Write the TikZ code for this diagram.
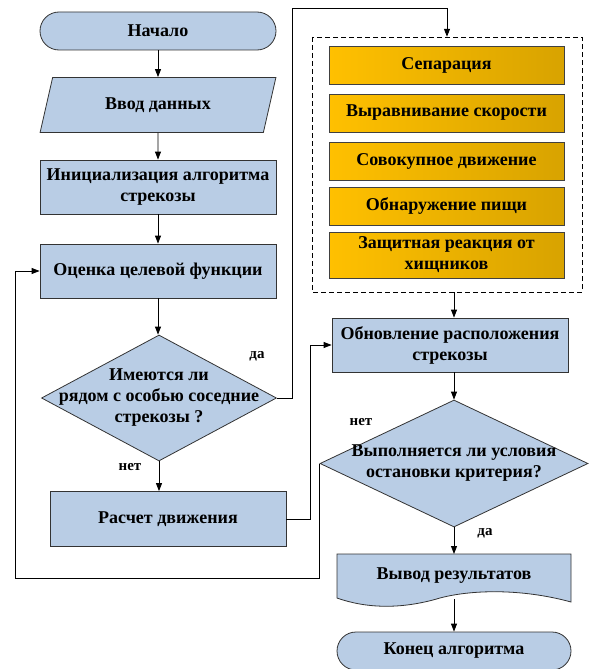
\documentclass[tikz,border=0pt]{standalone}
\usepackage{fontspec}
\setmainfont{Liberation Serif}
\usetikzlibrary{arrows.meta,positioning,shapes.geometric}

\definecolor{boxblue}{HTML}{B9CDE5}
\definecolor{goldA}{HTML}{FFC000}
\definecolor{goldB}{HTML}{D8A300}

\tikzset{
  box/.style={draw=black!80,line width=.8pt,fill=boxblue,minimum width=236pt,minimum height=54pt,align=center,inner sep=2pt},
  term/.style={box,minimum height=38pt,rounded corners=19pt},
  io/.style={box,trapezium,trapezium left angle=71,trapezium right angle=109,trapezium stretches=true,minimum height=55pt},
  decide/.style={draw=black!80,line width=.8pt,fill=boxblue,diamond,inner sep=0pt},
  rule/.style={draw=black!75,line width=.8pt,left color=goldA,right color=goldB,minimum width=235pt,minimum height=38pt,align=center,inner sep=1pt},
  link/.style={line width=.9pt,-{Triangle[length=8pt,width=6pt]}},
  lbl/.style={font=\fontsize{15}{17}\selectfont\bfseries}
}

\begin{document}
\begin{tikzpicture}[x=1pt,y=-1pt,every node/.style={font=\fontsize{18}{21}\selectfont\bfseries}]
\useasboundingbox (0,0) rectangle (590,669);

% left column
\node[term] (start) at (158,31) {Начало};
\node[io] (input) at (158,105) {Ввод данных};
\node[box] (init) at (158,187) {Инициализация алгоритма\\стрекозы};
\node[box] (eval) at (158,271) {Оценка целевой функции};
\node[decide,minimum width=235pt,minimum height=126pt] (near) at (159,398) {};
\node[align=center] at (near) {Имеются ли\\рядом с особью соседние\\стрекозы ?};
\node[box,minimum height=55pt] (move) at (168,519) {Расчет движения};

% behaviour group
\draw[line width=.8pt,dash pattern=on 5pt off 3pt] (312,37) rectangle (582,292);
\node[inner sep=0pt,minimum width=270pt,minimum height=255pt] (grp) at (447,164.5) {};
\node[rule] (sep) at (446.5,65.5) {Сепарация};
\node[rule] (ali) at (446.5,113) {Выравнивание скорости};
\node[rule] (coh) at (446.5,161) {Совокупное движение};
\node[rule] (food) at (446.5,206) {Обнаружение пищи};
\node[rule,minimum height=46pt] (enemy) at (446.5,255) {Защитная реакция от\\хищников};

% right column
\node[box] (upd) at (450,345) {Обновление расположения\\стрекозы};
\node[decide,minimum width=268pt,minimum height=127pt] (stop) at (454,463.5) {};
\node[align=center] at (stop) {Выполняется ли условия\\остановки критерия?};
\coordinate (outtl) at (337,554);
\coordinate (outbr) at (571,602);
\coordinate (outbot) at (454,599);
\draw[line width=.8pt,draw=black!80,fill=boxblue] (outtl) -- (571,554) -- (outbr)
  .. controls (520,588) and (470,590) .. (440,598)
  .. controls (400,610) and (365,608) .. (337,598) -- cycle;
\node[minimum width=234pt,minimum height=44pt] (out) at (454,576) {Вывод результатов};
\node[term,minimum width=234pt] (end) at (454,651) {Конец алгоритма};

% flow
\draw[link] (start) -- (input);
\draw[link] (input) -- (init);
\draw[link] (init) -- (eval);
\draw[link] (eval) -- (eval |- near.north);
\draw[link] (near.south) -- (near.south |- move.north);
\coordinate (yesup) at (292,8);
\draw[link] (near.east) -| (yesup) -| (grp.north);
\draw[link] (move.east) -- ++(24,0) |- (upd.west);
\draw[link] (stop.north |- grp.south) -- (stop.north |- upd.north);
\draw[link] (stop.north |- upd.south) -- (stop.north);
\coordinate (back) at (15,578);
\draw[link] (stop.west) |- (back) |- (eval.west);
\draw[link] (stop.south) -- (out.north |- outtl);
\draw[link] (outbot) -- (end);

\node[lbl] at (257,356) {да};
\node[lbl] at (130,467) {нет};
\node[lbl] at (361,422) {нет};
\node[lbl] at (485,533) {да};
\end{tikzpicture}
\end{document}
